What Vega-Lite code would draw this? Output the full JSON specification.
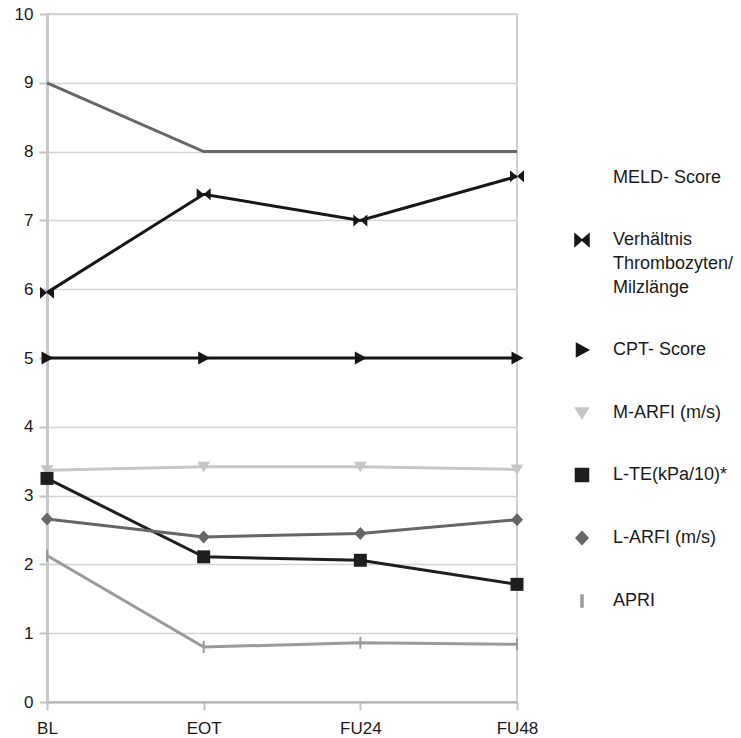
{
  "$schema": "https://vega.github.io/schema/vega-lite/v6.json",
  "autosize": {"type": "none"},
  "width": 470,
  "height": 688,
  "padding": {"left": 47, "top": 14, "right": 224, "bottom": 36},
  "background": "white",
  "config": {
    "font": "Liberation Sans",
    "view": {"stroke": "#d0d0d0", "strokeWidth": 2},
    "axis": {
      "labelFont": "Liberation Sans",
      "labelFontSize": 17,
      "labelColor": "#1a1a1a",
      "gridColor": "#d4d4d4",
      "gridWidth": 1.6,
      "tickColor": "#c4c4c4",
      "tickWidth": 2,
      "tickSize": 8,
      "domainColor": "#c4c4c4",
      "domainWidth": 2.5,
      "title": null
    },
    "legend": {
      "orient": "none",
      "legendX": 524,
      "legendY": 153,
      "labelFont": "Liberation Sans",
      "labelFontSize": 18,
      "labelColor": "#1a1a1a",
      "labelOffset": 20,
      "labelLimit": 300,
      "rowPadding": 42,
      "symbolSize": 400
    }
  },
  "data": {
    "values": [
      {"t": "BL", "series": "MELD- Score", "v": 9},
      {"t": "EOT", "series": "MELD- Score", "v": 8},
      {"t": "FU24", "series": "MELD- Score", "v": 8},
      {"t": "FU48", "series": "MELD- Score", "v": 8},
      {"t": "BL", "series": "Verhältnis Thrombozyten/Milzlänge", "v": 5.95},
      {"t": "EOT", "series": "Verhältnis Thrombozyten/Milzlänge", "v": 7.38},
      {"t": "FU24", "series": "Verhältnis Thrombozyten/Milzlänge", "v": 7.0},
      {"t": "FU48", "series": "Verhältnis Thrombozyten/Milzlänge", "v": 7.64},
      {"t": "BL", "series": "CPT- Score", "v": 5},
      {"t": "EOT", "series": "CPT- Score", "v": 5},
      {"t": "FU24", "series": "CPT- Score", "v": 5},
      {"t": "FU48", "series": "CPT- Score", "v": 5},
      {"t": "BL", "series": "M-ARFI (m/s)", "v": 3.37},
      {"t": "EOT", "series": "M-ARFI (m/s)", "v": 3.42},
      {"t": "FU24", "series": "M-ARFI (m/s)", "v": 3.42},
      {"t": "FU48", "series": "M-ARFI (m/s)", "v": 3.38},
      {"t": "BL", "series": "L-TE(kPa/10)*", "v": 3.25},
      {"t": "EOT", "series": "L-TE(kPa/10)*", "v": 2.11},
      {"t": "FU24", "series": "L-TE(kPa/10)*", "v": 2.06},
      {"t": "FU48", "series": "L-TE(kPa/10)*", "v": 1.71},
      {"t": "BL", "series": "L-ARFI (m/s)", "v": 2.66},
      {"t": "EOT", "series": "L-ARFI (m/s)", "v": 2.4},
      {"t": "FU24", "series": "L-ARFI (m/s)", "v": 2.45},
      {"t": "FU48", "series": "L-ARFI (m/s)", "v": 2.65},
      {"t": "BL", "series": "APRI", "v": 2.13},
      {"t": "EOT", "series": "APRI", "v": 0.8},
      {"t": "FU24", "series": "APRI", "v": 0.86},
      {"t": "FU48", "series": "APRI", "v": 0.84}
    ]
  },
  "encoding": {
    "x": {
      "field": "t",
      "type": "ordinal",
      "sort": ["BL", "EOT", "FU24", "FU48"],
      "scale": {"type": "point", "padding": 0},
      "axis": {"labelAngle": 0, "labelPadding": 10, "grid": false, "domain": true, "domainColor": "#b4b4b4", "domainWidth": 2}
    },
    "y": {
      "field": "v",
      "type": "quantitative",
      "scale": {"domain": [0, 10], "nice": false, "zero": true},
      "axis": {"values": [0, 1, 2, 3, 4, 5, 6, 7, 8, 9, 10], "labelPadding": 6, "grid": true, "domain": true, "domainColor": "#c8c8c8", "domainWidth": 3}
    },
    "color": {
      "field": "series",
      "type": "nominal",
      "scale": {
        "domain": ["MELD- Score", "Verhältnis Thrombozyten/Milzlänge", "CPT- Score", "M-ARFI (m/s)", "L-TE(kPa/10)*", "L-ARFI (m/s)", "APRI"],
        "range": ["#666666", "#161616", "#161616", "#c6c6c6", "#1e1e1e", "#666666", "#9a9a9a"]
      },
      "legend": {
        "title": null,
        "labelExpr": "datum.label == 'Verhältnis Thrombozyten/Milzlänge' ? 'Verhältnis|Thrombozyten/|Milzlänge' : datum.label",
        "encode": {
          "labels": {
            "update": {
              "lineBreak": {"value": "|"},
              "lineHeight": {"value": 24}
            }
          }
        }
      }
    }
  },
  "layer": [
    {
      "mark": {"type": "line", "strokeWidth": 3}
    },
    {
      "mark": {"type": "point", "filled": true, "opacity": 1, "size": 400, "strokeWidth": 0},
      "encoding": {
        "shape": {
          "field": "series",
          "type": "nominal",
          "scale": {
            "domain": ["MELD- Score", "Verhältnis Thrombozyten/Milzlänge", "CPT- Score", "M-ARFI (m/s)", "L-TE(kPa/10)*", "L-ARFI (m/s)", "APRI"],
            "range": [
              "M0,0Z",
              "M-0.7,-0.6L0,0L-0.7,0.6ZM0.7,-0.6L0,0L0.7,0.6Z",
              "M-0.55,-0.65L0.65,0L-0.55,0.65Z",
              "M-0.65,-0.5H0.65L0,0.55Z",
              "M-0.65,-0.65H0.65V0.65H-0.65Z",
              "M0,-0.65L0.6,0L0,0.65L-0.6,0Z",
              "M-0.1,-0.6H0.1V0.6H-0.1Z"
            ]
          },
          "legend": {
            "title": null,
            "labelExpr": "datum.label == 'Verhältnis Thrombozyten/Milzlänge' ? 'Verhältnis|Thrombozyten/|Milzlänge' : datum.label",
            "encode": {
              "labels": {
                "update": {
                  "lineBreak": {"value": "|"},
                  "lineHeight": {"value": 24}
                }
              }
            }
          }
        }
      }
    }
  ]
}
